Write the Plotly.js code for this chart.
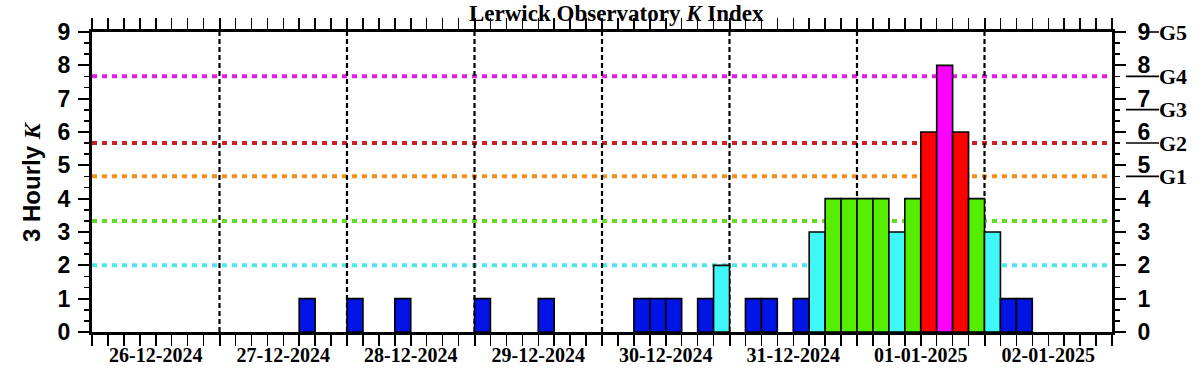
<!DOCTYPE html>
<html>
<head>
<meta charset="utf-8">
<script src="https://cdn.plot.ly/plotly-3.0.1.min.js"></script>
<style>
  html, body { margin: 0; padding: 0; background: #fff; }
  #chart { width: 1203px; height: 375px; }
</style>
</head>
<body>
<div id="chart"></div>
<script>
// ---- Data ----
const dayStarts = ['2024-12-26', '2024-12-27', '2024-12-28', '2024-12-29', '2024-12-30', '2024-12-31', '2025-01-01', '2025-01-02'];
const rangeEnd = '2025-01-03';
const intervalStarts = [
  '2024-12-27 15:00',
  '2024-12-28 00:00', '2024-12-28 09:00',
  '2024-12-29 00:00', '2024-12-29 12:00',
  '2024-12-30 06:00', '2024-12-30 09:00', '2024-12-30 12:00', '2024-12-30 18:00', '2024-12-30 21:00',
  '2024-12-31 03:00', '2024-12-31 06:00', '2024-12-31 12:00', '2024-12-31 15:00', '2024-12-31 18:00', '2024-12-31 21:00',
  '2025-01-01 00:00', '2025-01-01 03:00', '2025-01-01 06:00', '2025-01-01 09:00', '2025-01-01 12:00', '2025-01-01 15:00', '2025-01-01 18:00', '2025-01-01 21:00',
  '2025-01-02 00:00', '2025-01-02 03:00', '2025-01-02 06:00'
];
const kValues = [
  1,
  1, 1,
  1, 1,
  1, 1, 1, 1, 2,
  1, 1, 1, 3, 4, 4,
  4, 4, 3, 4, 6, 8, 6, 4,
  3, 1, 1
];
const thresholdLevels = [2, 3.33, 4.67, 5.67, 7.67];
const gLevels = [4.67, 5.67, 6.67, 7.67, 9];
const gLabels = ['G1', 'G2', 'G3', 'G4', 'G5'];
const yRange = [0, 9];

// ---- Styles ----
const thresholdColors = ['#4ce8ea', '#62dc22', '#f59020', '#cc2222', '#e21ee2'];
function kColor(k) {
  if (k <= 1) return '#0014e6';
  if (k <= 3) return '#40f8f8';
  if (k === 4) return '#55ee00';
  if (k === 5) return '#ff9900';
  if (k <= 7) return '#ff0000';
  return '#ff00ff';
}
const THREE_H = 3 * 3600 * 1000;
const sansBold = { family: 'Liberation Sans, Arial, sans-serif', size: 23, color: '#000', weight: 'bold' };
const serifBold = { family: 'Liberation Serif, Times New Roman, serif', size: 20, color: '#000', weight: 'bold' };
const plotL = 92, plotR = 1112, plotW = plotR - plotL;
const px2paper = p => (p - plotL) / plotW;
const y2paper = v => (v - yRange[0]) / (yRange[1] - yRange[0]);

const traces = [
  {
    type: 'bar',
    x: intervalStarts,
    y: kValues,
    width: THREE_H,
    offset: 0,
    marker: { color: kValues.map(kColor), line: { color: '#000', width: 1.6 } },
    hoverinfo: 'skip',
    showlegend: false
  },
  {
    type: 'scatter', mode: 'markers',
    x: [dayStarts[0]], y: [0], yaxis: 'y2',
    marker: { opacity: 0 }, hoverinfo: 'skip', showlegend: false
  }
];

const shapes = [];
thresholdLevels.forEach((lv, i) => {
  shapes.push({
    type: 'line', layer: 'below', xref: 'paper', yref: 'y',
    x0: 0, x1: 1, y0: lv, y1: lv,
    line: { color: thresholdColors[i], width: 4, dash: '5px,5px' }
  });
});
dayStarts.slice(1).forEach(d => {
  shapes.push({
    type: 'line', layer: 'below', xref: 'x', yref: 'paper',
    x0: d, x1: d, y0: 0, y1: 1,
    line: { color: '#000', width: 2.2, dash: '5px,3px' }
  });
});
gLevels.forEach((lv, i) => {
  const isTop = i === gLevels.length - 1;
  shapes.push({
    type: 'line', layer: 'above', xref: 'paper', yref: 'paper',
    x0: px2paper(isTop ? 1149 : 1126), x1: px2paper(1159),
    y0: y2paper(lv), y1: y2paper(lv),
    line: { color: '#000', width: 1.6 }
  });
});

const annotations = gLevels.map((lv, i) => ({
  xref: 'paper', yref: 'y', x: px2paper(1157), y: lv,
  xanchor: 'left', yanchor: 'middle', showarrow: false,
  text: gLabels[i], font: Object.assign({}, serifBold, { size: 22 })
}));
annotations.push({
  xref: 'paper', yref: 'paper', x: 0, y: 0.5, xshift: -61,
  xanchor: 'center', yanchor: 'middle', showarrow: false, textangle: -90,
  text: '3 Hourly <span style="font-family:Liberation Serif;font-style:italic">K</span>',
  font: Object.assign({}, sansBold, { size: 24 })
});
annotations.push({
  xref: 'paper', yref: 'paper', x: px2paper(616.5), y: 1, yshift: 19,
  xanchor: 'center', yanchor: 'middle', showarrow: false,
  text: 'Lerwick Observatory <i>K</i> Index',
  font: Object.assign({}, serifBold, { size: 23 })
});

const yCommon = {
  range: yRange, dtick: 1, tick0: 0,
  ticks: 'outside', ticklen: 11, tickwidth: 2, tickcolor: '#000',
  minor: { dtick: 1 / 3, ticks: 'outside', ticklen: 5, tickwidth: 1.5, tickcolor: '#000', showgrid: false },
  showline: true, linewidth: 3, linecolor: '#000',
  showgrid: false, zeroline: false, fixedrange: true,
  tickfont: sansBold
};

const layout = {
  width: 1203, height: 375,
  margin: { l: plotL, r: 1203 - plotR, t: 32, b: 43, pad: 0 },
  paper_bgcolor: '#fff', plot_bgcolor: '#fff',
  bargap: 0,
  xaxis: {
    type: 'date', range: [dayStarts[0], rangeEnd],
    tick0: dayStarts[0], dtick: 86400000,
    tickformat: '%d-%m-%Y', ticklabelmode: 'period',
    ticks: 'outside', ticklen: 11, tickwidth: 2, tickcolor: '#000',
    minor: { dtick: THREE_H, ticks: 'outside', ticklen: 5, tickwidth: 1.5, tickcolor: '#000', showgrid: false },
    showline: true, linewidth: 3, linecolor: '#000', mirror: 'allticks',
    showgrid: false, zeroline: false, fixedrange: true,
    tickfont: serifBold, ticklabelstandoff: -8
  },
  yaxis: Object.assign({}, yCommon, { side: 'left', ticklabelstandoff: 3 }),
  yaxis2: Object.assign({}, yCommon, { side: 'right', overlaying: 'y', anchor: 'x', ticklabelstandoff: 7 }),
  shapes: shapes,
  annotations: annotations,
  showlegend: false
};

Plotly.newPlot('chart', traces, layout, { displayModeBar: false, staticPlot: true });
</script>
</body>
</html>
